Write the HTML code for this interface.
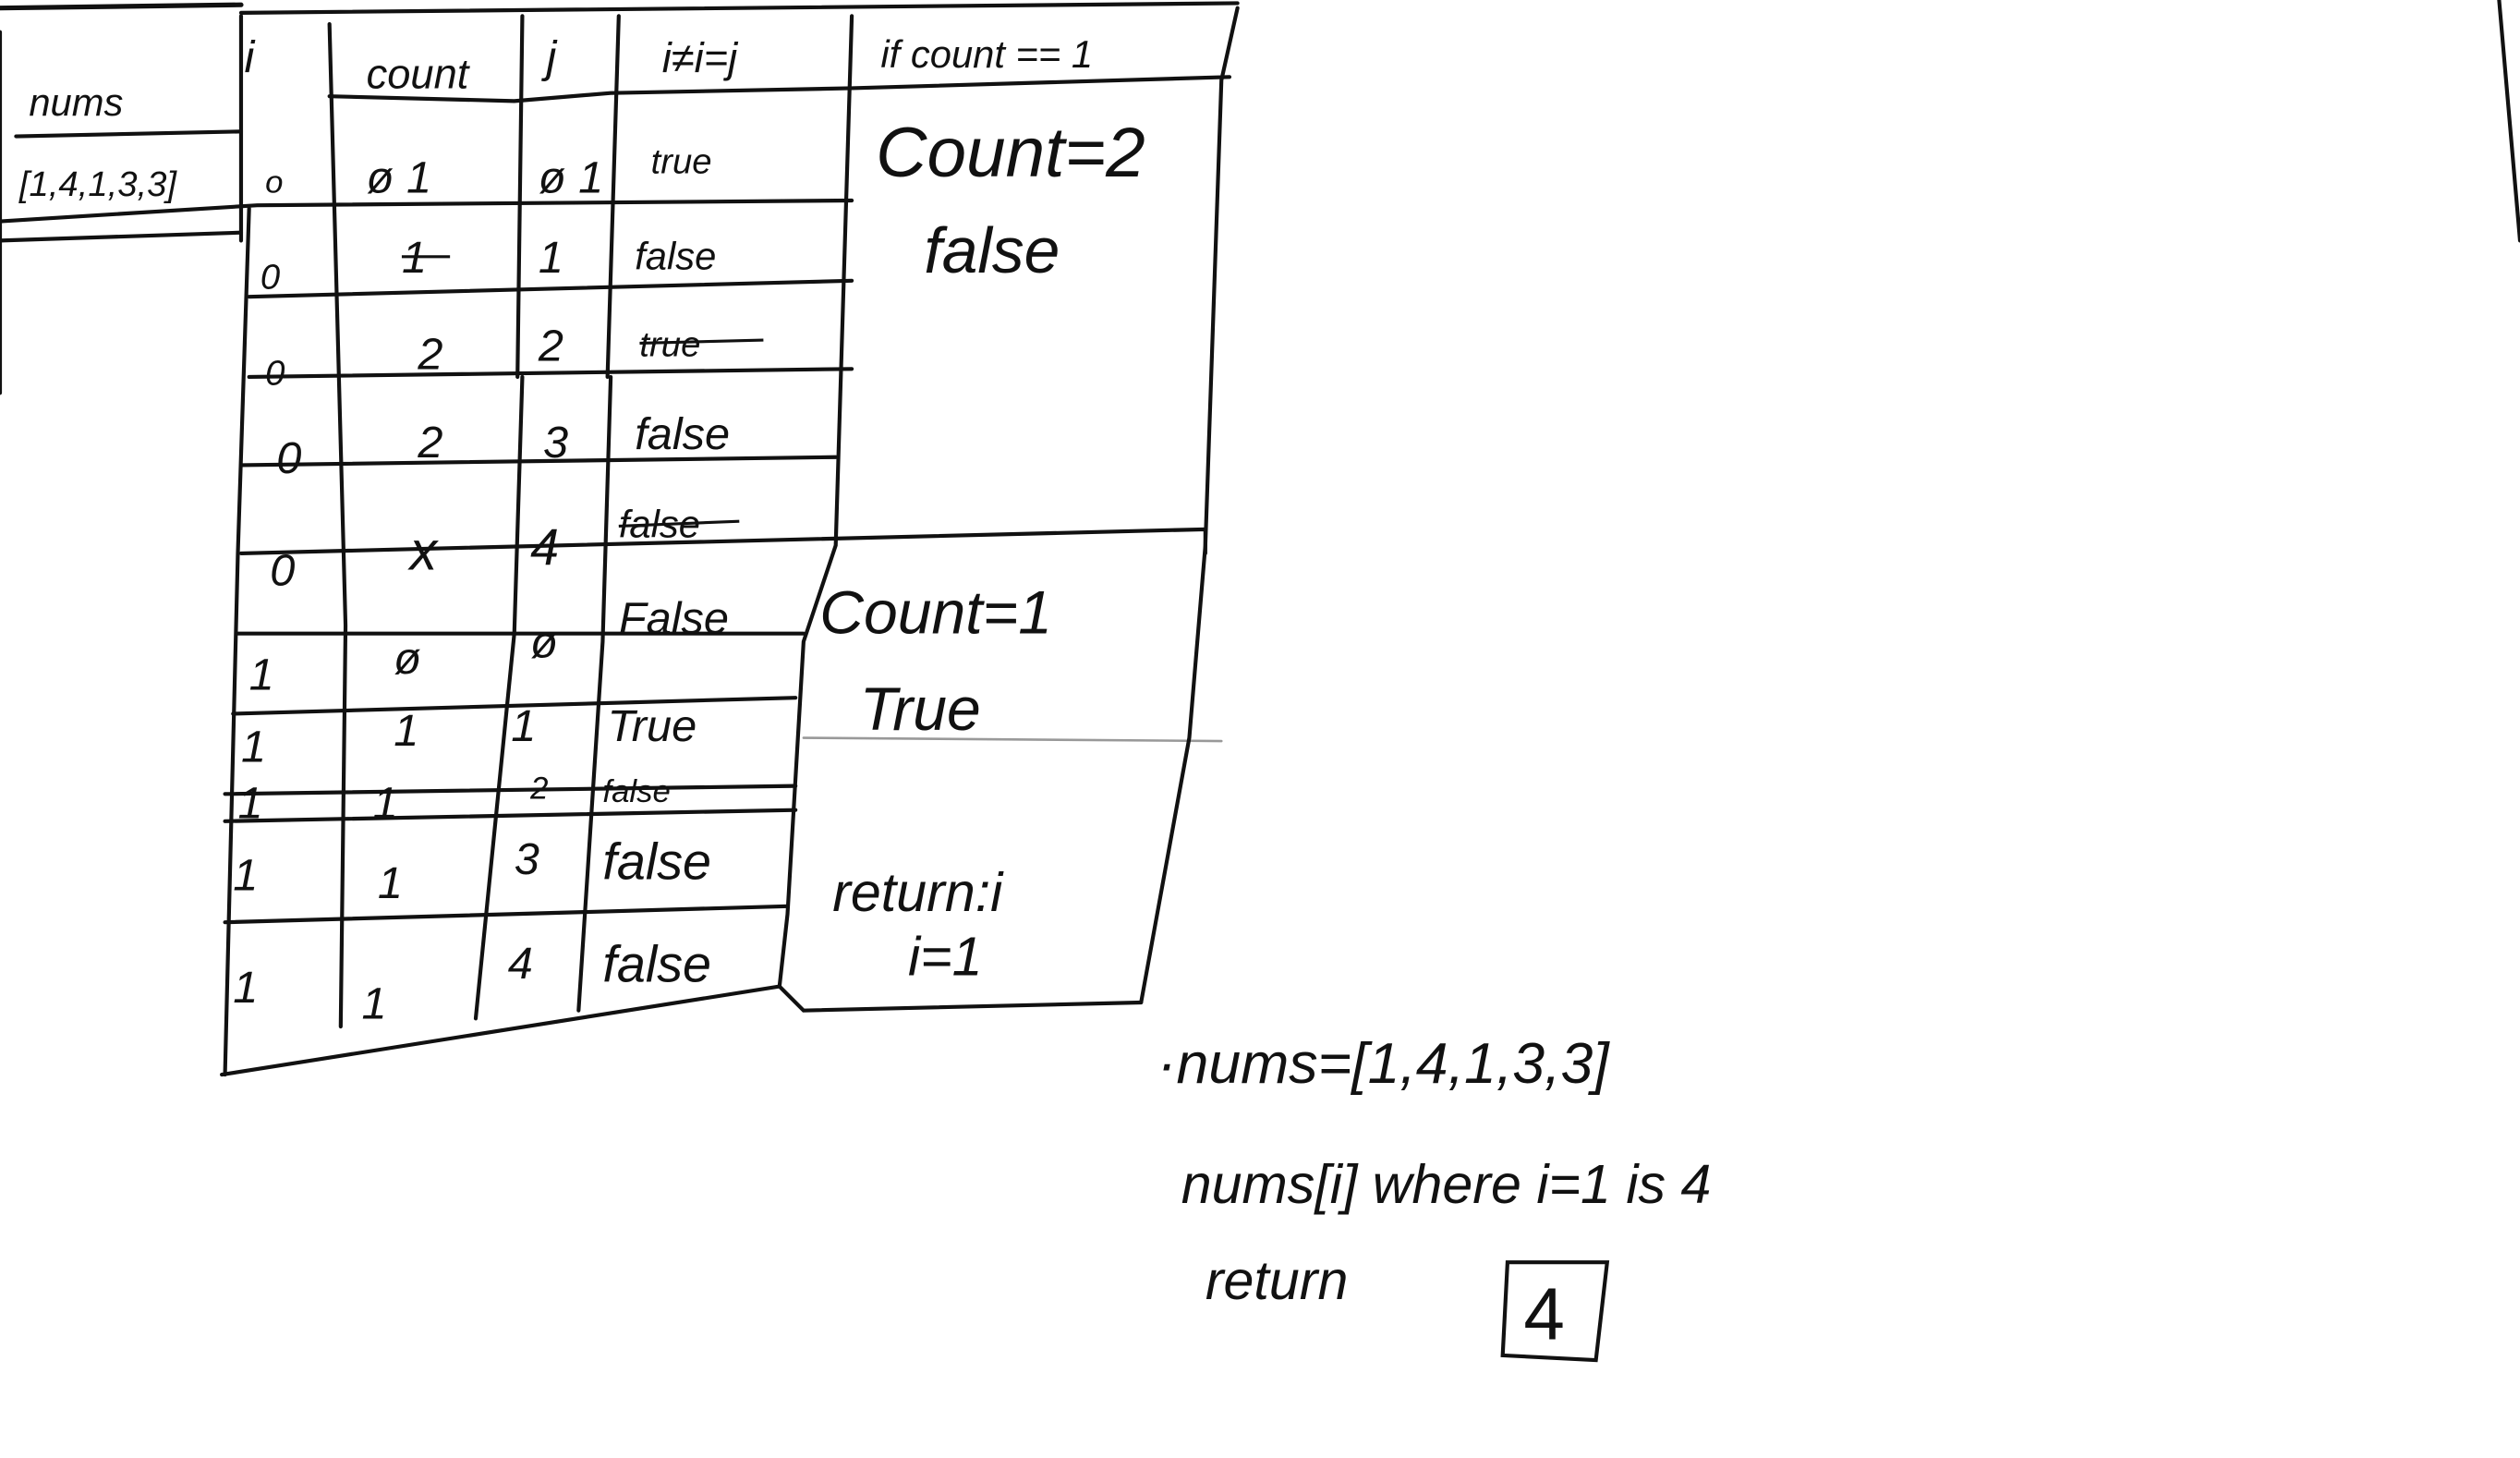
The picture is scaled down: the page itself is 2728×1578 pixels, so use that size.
<!DOCTYPE html>
<html><head><meta charset="utf-8"><style>
html,body{margin:0;padding:0;background:#fff;}
svg{display:block}
text{font-family:"Liberation Sans",sans-serif;fill:#111;}
</style></head><body>
<svg width="2728" height="1578" viewBox="0 0 1568 909" preserveAspectRatio="none" xmlns="http://www.w3.org/2000/svg">
<rect width="1568" height="909" fill="#fff"/>
<g stroke="#111" stroke-width="2.4" fill="none" stroke-linecap="round">
<path d="M0 5 L150 3" stroke-width="3"/>
<path d="M150 8 L770 2"/>
<path d="M205 60 L320 63 L380 58 L530 55 L765 48"/>
<path d="M10 85 L150 82"/>
<path d="M0 138 L160 128 L530 125"/>
<path d="M0 150 L150 145"/>
<path d="M155 185 L530 175"/>
<path d="M155 235 L530 230"/>
<path d="M150 290 L520 285"/>
<path d="M150 345 L750 330 L750 345"/>
<path d="M148 395 L500 395"/>
<path d="M145 445 L495 435"/>
<path d="M140 495 L495 490"/>
<path d="M140 512 L495 505"/>
<path d="M140 575 L490 565"/>
<path d="M138 670 L485 615 L500 630 L710 625"/>
<path d="M500 460 L760 462" stroke="#999" stroke-width="1.5"/>
<path d="M150 10 L150 150"/>
<path d="M155 130 L148 345 L140 670"/>
<path d="M205 15 L215 390 L212 640"/>
<path d="M325 10 L322 235"/>
<path d="M325 235 L320 395 L296 635"/>
<path d="M385 10 L378 235"/>
<path d="M380 235 L375 400 L360 630"/>
<path d="M530 10 L520 340 L500 400 L490 570 L485 615"/>
<path d="M770 5 L760 50 L750 340 L740 460 L710 625"/>
<path d="M0 20 L0 245"/>
<path d="M1555 0 L1568 150"/>
<path d="M938 787 L1000 787 L993 848 L935 845 Z"/>
</g>
<g font-size="28" font-style="italic">
<text x="18" y="72" font-size="24">nums</text>
<text x="152" y="45">i</text>
<text x="228" y="55" font-size="26">count</text>
<text x="340" y="45">j</text>
<text x="412" y="45" font-size="26">i≠i=j</text>
<text x="548" y="42" font-size="24">if count == 1</text>
<text x="12" y="122" font-size="22">[1,4,1,3,3]</text>
<text x="165" y="120" font-size="20">o</text>
<text x="228" y="120">ø 1</text>
<text x="335" y="120">ø 1</text>
<text x="405" y="108" font-size="22">true</text>
<text x="545" y="110" font-size="44">Count=2</text>
<text x="575" y="170" font-size="40">false</text>
<text x="162" y="180" font-size="22">0</text>
<text x="250" y="170">1</text>
<text x="335" y="170">1</text>
<text x="395" y="168" font-size="24">false</text>
<text x="165" y="240" font-size="22">0</text>
<text x="260" y="230">2</text>
<text x="335" y="225">2</text>
<text x="398" y="222" font-size="22">true</text>
<text x="172" y="295">0</text>
<text x="260" y="285">2</text>
<text x="338" y="285">3</text>
<text x="395" y="280">false</text>
<text x="168" y="365">0</text>
<text x="255" y="355" font-size="34">x</text>
<text x="330" y="352" font-size="32">4</text>
<text x="385" y="335" font-size="24">false</text>
<text x="385" y="395" font-size="28">False</text>
<text x="510" y="395" font-size="38">Count=1</text>
<text x="155" y="430">1</text>
<text x="245" y="420">ø</text>
<text x="330" y="410">ø</text>
<text x="150" y="475">1</text>
<text x="245" y="465">1</text>
<text x="318" y="462">1</text>
<text x="378" y="462" font-size="28">True</text>
<text x="535" y="455" font-size="38">True</text>
<text x="148" y="510">1</text>
<text x="232" y="510">1</text>
<text x="330" y="498" font-size="20">2</text>
<text x="375" y="500" font-size="20">false</text>
<text x="145" y="555">1</text>
<text x="235" y="560">1</text>
<text x="320" y="545">3</text>
<text x="375" y="548" font-size="32">false</text>
<text x="518" y="568" font-size="34">return:i</text>
<text x="565" y="608" font-size="34">i=1</text>
<text x="145" y="625">1</text>
<text x="225" y="635">1</text>
<text x="316" y="610">4</text>
<text x="375" y="612" font-size="32">false</text>
<text x="720" y="675" font-size="36">·nums=[1,4,1,3,3]</text>
<text x="735" y="750" font-size="34">nums[i] where i=1 is 4</text>
<text x="750" y="810" font-size="34">return</text>
<text x="948" y="835" font-size="46" font-style="normal">4</text>
</g>
<g stroke="#111" stroke-width="1.8">
<path d="M250 160 L280 160"/><path d="M398 214 L475 212"/><path d="M385 328 L460 325"/>
</g>
</svg>
</body></html>
